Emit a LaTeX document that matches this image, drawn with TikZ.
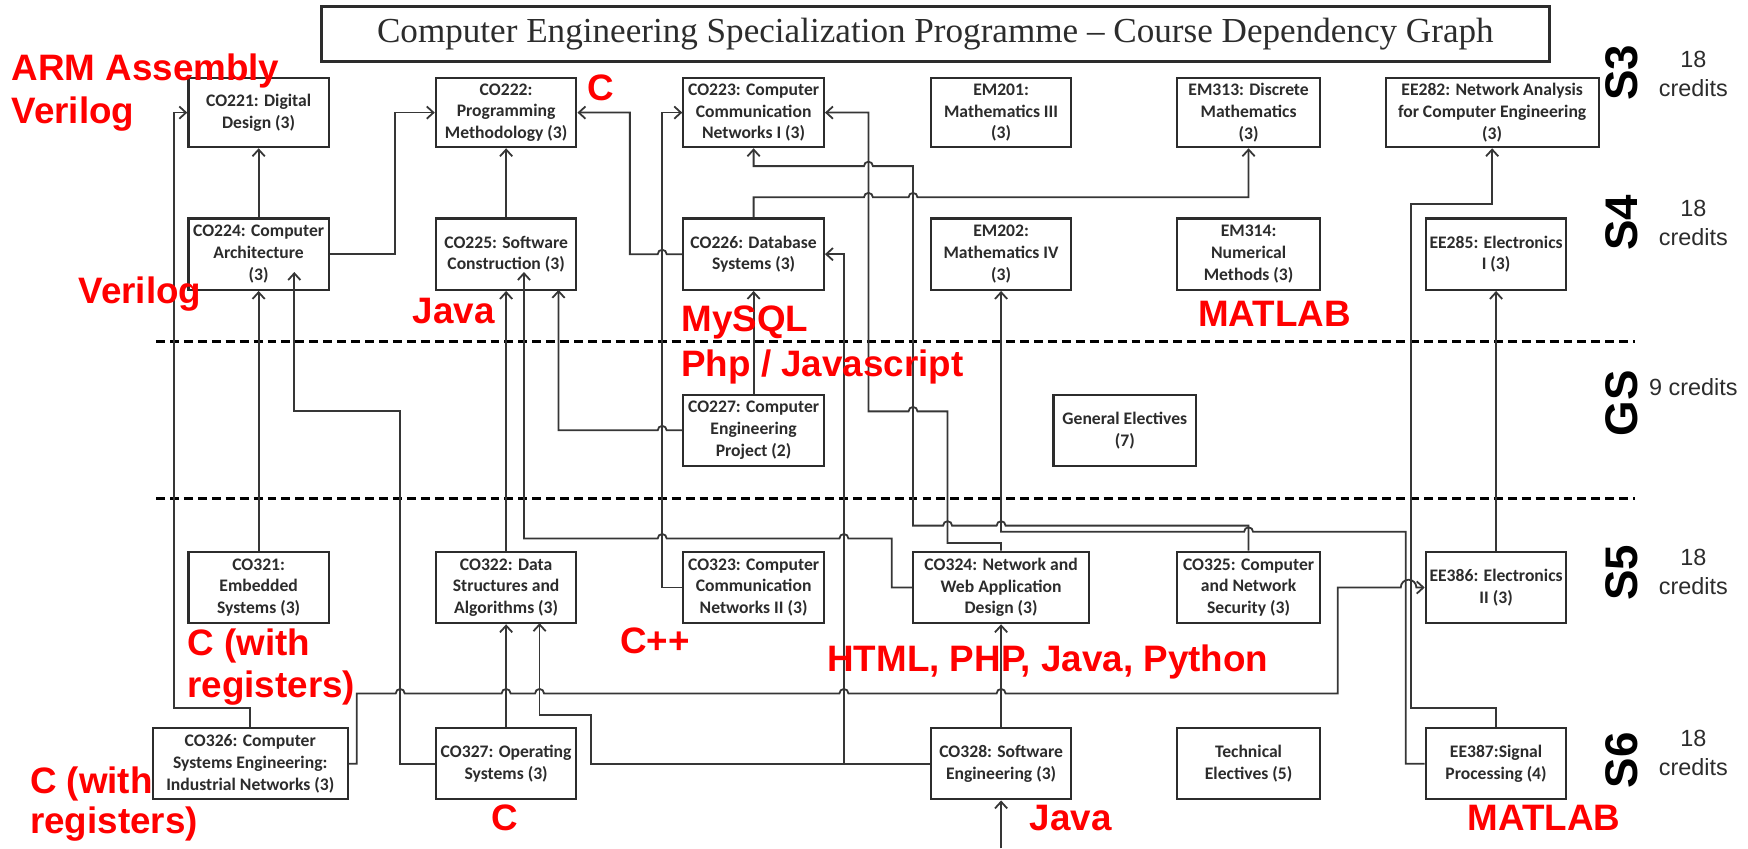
\documentclass[tikz,border=0pt]{standalone}
\usepackage{fontspec}
\setmainfont{Carlito}
\newfontfamily\boxfont{Carlito}
\newfontfamily\headfont{Liberation Serif}
\newfontfamily\notefont{Liberation Sans}
\usetikzlibrary{arrows.meta}
\definecolor{ink}{HTML}{2C2C2C}
\definecolor{wire}{HTML}{363636}
\definecolor{note}{HTML}{FF0000}
% line hops over a crossing at x=#1, y=#2 (travelling left / right)
\newcommand\hopL[2]{-- (#1+4,#2) arc[start angle=0,end angle=180,radius=4pt]}
\newcommand\hopR[2]{-- (#1-4,#2) arc[start angle=180,end angle=0,radius=4pt]}
\tikzset{
  course/.style={draw=ink, line width=2pt, text=ink, align=center, inner sep=1pt,
    font=\boxfont\bfseries\fontsize{15.8}{19.5}\selectfont,
    minimum width=126pt, minimum height=64pt},
  conn/.style={draw=wire, line width=1.6pt, -{Straight Barb[length=6pt,width=11pt]}},
  tool/.style={text=note, font=\notefont\bfseries\fontsize{33}{38}\selectfont,
    anchor=base west, inner sep=0pt},
  sem/.style={font=\notefont\bfseries\fontsize{41}{41}\selectfont, rotate=90,
    inner sep=0pt, text=black},
  cred/.style={font=\notefont\fontsize{21}{26}\selectfont, align=center,
    inner sep=0pt, text=ink},
  divider/.style={draw=black, line width=3pt, dash pattern=on 8pt off 4.5pt},
}
\begin{document}
\begin{tikzpicture}[x=1pt,y=-1pt]
\useasboundingbox[fill=white] (0,0) rectangle (1568,761);

% heading
\node[draw=ink, line width=2.6pt, minimum width=1102pt, minimum height=49pt,
  inner sep=0pt, text=ink, font=\headfont\fontsize{31.5}{36}\selectfont]
  (title) at (839,30.5) {Computer Engineering Specialization Programme – Course Dependency Graph};

% semester dividers
\draw[divider] (140,306.6) -- (1467,306.6);
\draw[divider] (140,447) -- (1467,447);

% semester 3
\node[course, minimum height=62pt] (co221) at (232,101) {CO221: Digital\\Design (3)};
\node[course, minimum height=62pt] (co222) at (454,101) {CO222:\\Programming\\Methodology (3)};
\node[course, minimum height=62pt] (co223) at (676,101) {CO223: Computer\\Communication\\Networks I (3)};
\node[course, minimum height=62pt] (em201) at (898,101) {EM201:\\Mathematics III\\(3)};
\node[course, minimum height=62pt, minimum width=128pt] (em313) at (1120,101) {EM313: Discrete\\Mathematics\\(3)};
\node[course, minimum height=62pt, minimum width=191pt] (ee282) at (1338.5,101) {EE282: Network Analysis\\for Computer Engineering\\(3)};

% semester 4
\node[course] (co224) at (232,228) {CO224: Computer\\Architecture\\(3)};
\node[course] (co225) at (454,228) {CO225: Software\\Construction (3)};
\node[course] (co226) at (676,228) {CO226: Database\\Systems (3)};
\node[course] (em202) at (898,228) {EM202:\\Mathematics IV\\(3)};
\node[course, minimum width=128pt] (em314) at (1120,228) {EM314:\\Numerical\\Methods (3)};
\node[course] (ee285) at (1342,228) {EE285: Electronics\\I (3)};

% general studies
\node[course] (co227) at (676,386) {CO227: Computer\\Engineering\\Project (2)};
\node[course, minimum width=128pt] (genel) at (1009,386) {General Electives\\(7)};

% semester 5
\node[course] (co321) at (232,527) {CO321:\\Embedded\\Systems (3)};
\node[course] (co322) at (454,527) {CO322: Data\\Structures and\\Algorithms (3)};
\node[course] (co323) at (676,527) {CO323: Computer\\Communication\\Networks II (3)};
\node[course, minimum width=158pt] (co324) at (898,527) {CO324: Network and\\Web Application\\Design (3)};
\node[course, minimum width=128pt] (co325) at (1120,527) {CO325: Computer\\and Network\\Security (3)};
\node[course] (ee386) at (1342,527) {EE386: Electronics\\II (3)};

% semester 6
\node[course, minimum width=175pt] (co326) at (224.5,685) {CO326: Computer\\Systems Engineering:\\Industrial Networks (3)};
\node[course] (co327) at (454,685) {CO327: Operating\\Systems (3)};
\node[course] (co328) at (898,685) {CO328: Software\\Engineering (3)};
\node[course, minimum width=128pt] (techel) at (1120,685) {Technical\\Electives (5)};
\node[course] (ee387) at (1342,685) {EE387:Signal\\Processing (4)};

% semester labels
\node[sem] (s3) at (1455,65.5) {S3};
\node[cred] (s3c) at (1519,66.7) {18\\credits};
\node[sem] (s4) at (1455,200) {S4};
\node[cred] (s4c) at (1519,200) {18\\credits};
\node[sem] (gs) at (1455,361.5) {GS};
\node[cred] (gsc) at (1519,347) {9 credits};
\node[sem] (s5) at (1455,514) {S5};
\node[cred] (s5c) at (1519,513) {18\\credits};
\node[sem] (s6) at (1455,682) {S6};
\node[cred] (s6c) at (1519,675.5) {18\\credits};

% free ends of connectors
\coordinate (feed) at (898,761);
\coordinate (t224) at (264,244);
\coordinate (t225) at (470,244);

% prerequisite links
\draw[conn] (co326.north) |- (156,635) |- (co221.west);
\draw[conn] (co224.north) -- (co221.south);
\draw[conn] (co224.east) -| (354,160) |- (co222.west);
\draw[conn] (co225.north) -- (co222.south);
\draw[conn] (co226.west) \hopL{594}{228} -- (565,228) |- (co222.east);
\draw[conn] (co323.west) -| (594,300) |- (co223.west);
\draw[conn] (co324.north) -- (898,487) -- (850,487) -- (850,369) \hopL{819}{369} -- (779,369) |- (co223.east);
\draw[conn] (co325.north) -- (1120,471.5) \hopL{898}{471.5} \hopL{850}{471.5} -- (819,471.5) -- (819,149) \hopL{779}{149} -- (676,149) -- (co223.south);
\draw[conn] (co226.north) -- (676,177) \hopR{779}{177} \hopR{819}{177} -- (1120,177) -- (em313.south);
\draw[conn] (co321.north) -- (co224.south);
\draw[conn] (co327.west) -- (359,685) -- (359,369) -- (264,369) -- (t224);
\draw[conn] (co322.north) -- (co225.south);
\draw[conn] (co324.west) -- (800,527) -- (800,483) \hopL{757}{483} \hopL{594}{483} -- (470,483) -- (t225);
\draw[conn] (co227.west) \hopL{594}{386} -| (501,260);
\draw[conn] (co227.north) -- (co226.south);
\draw[conn] (co328.west) -- (757,685) |- (co226.east);
\draw[conn] (co328.west) -- (530,685) -- (530,641.5) -- (484,641.5) -- (484,559);
\draw[conn] (co327.north) -- (co322.south);
\draw[conn] (co326.east) -- (320,685) -- (320,622) \hopR{359}{622} \hopR{454}{622} \hopR{484}{622} \hopR{757}{622} \hopR{898}{622} -- (1200,622) -- (1200,527) -- (1256.5,527) arc[start angle=180,end angle=0,radius=7pt] -- (ee386.west);
\draw[conn] (co328.north) -- (co324.south);
\draw[conn] (feed) -- (co328.south);
\draw[conn] (ee387.west) -- (1261,685) -- (1261,477) \hopL{1120}{477} -- (898,477) -- (em202.south);
\draw[conn] (ee387.north) -- (1342,635) -- (1266,635) -- (1266,183) -| (ee282.south);
\draw[conn] (ee386.north) -- (ee285.south);

% languages used in the courses
\node[tool] (n1a) at (10.3,71.8) {ARM Assembly};
\node[tool] (n1b) at (10.3,111) {Verilog};
\node[tool] (n2) at (526.5,89.7) {C};
\node[tool] (n3) at (70.4,272) {Verilog};
\node[tool] (n4) at (370,290) {Java};
\node[tool] (n5a) at (611,297.6) {MySQL};
\node[tool] (n5b) at (611,338) {Php / Javascript};
\node[tool] (n6) at (1074.5,293) {MATLAB};
\node[tool] (n7a) at (168,587.6) {C (with};
\node[tool] (n7b) at (168,626) {registers)};
\node[tool] (n8) at (556,586) {C++};
\node[tool] (n9) at (742,602.5) {HTML, PHP, Java, Python};
\node[tool] (n10a) at (26.8,711.5) {C (with};
\node[tool] (n10b) at (26.8,747.5) {registers)};
\node[tool] (n11) at (440.5,744.6) {C};
\node[tool] (n12) at (923.6,744.6) {Java};
\node[tool] (n13) at (1316.5,744.6) {MATLAB};
\end{tikzpicture}
\end{document}
